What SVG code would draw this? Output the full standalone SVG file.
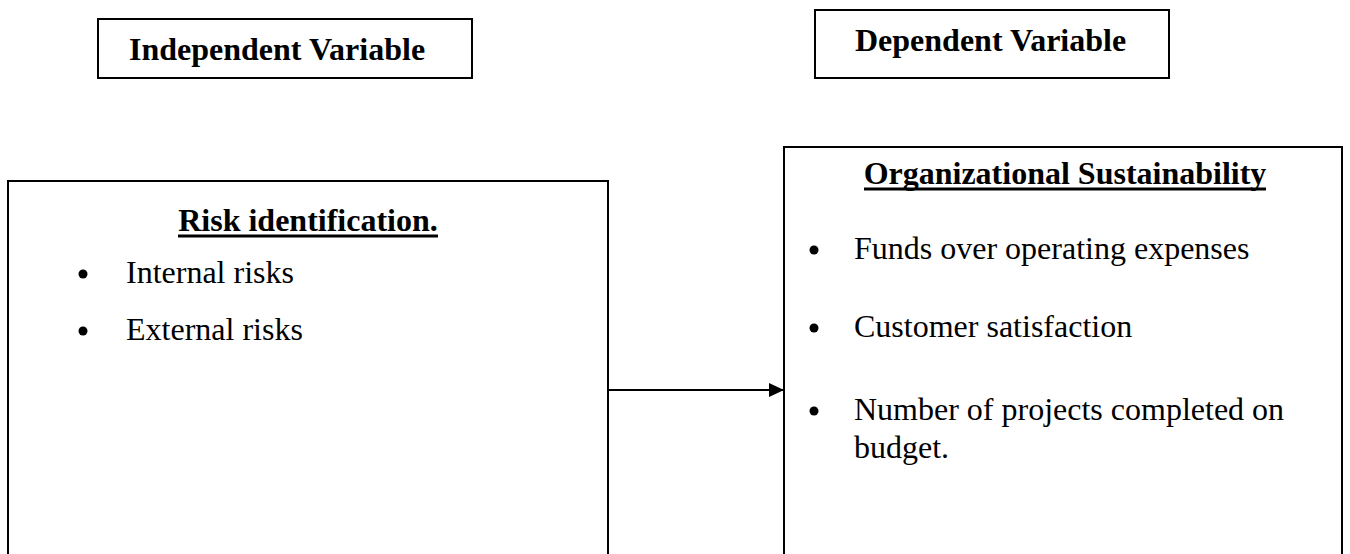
<svg xmlns="http://www.w3.org/2000/svg" width="1350" height="554" viewBox="0 0 1350 554">
<defs>
<style>
.box{fill:#fff;stroke:#000;stroke-width:2}
.h{font-family:"Liberation Serif","Times New Roman",serif;font-size:32px;font-weight:bold;fill:#000}
.t{font-family:"Liberation Serif","Times New Roman",serif;font-size:32px;fill:#000}
.ul{stroke:#000;stroke-width:3}
.conn{stroke:#000;stroke-width:2;fill:none}
</style>
<marker id="arr" viewBox="0 0 10 10" refX="10" refY="5" markerWidth="15" markerHeight="14" markerUnits="userSpaceOnUse" orient="auto" preserveAspectRatio="none">
<path d="M0,0 L10,5 L0,10 Z" fill="#000"/>
</marker>
</defs>
<rect width="1350" height="554" fill="#fff"/>
<g id="independent-label">
<rect class="box" x="98" y="19" width="374" height="59"/>
<text class="h" x="129" y="60">Independent Variable</text>
</g>
<g id="dependent-label">
<rect class="box" x="815" y="10" width="354" height="68"/>
<text class="h" x="855" y="51">Dependent Variable</text>
</g>
<g id="risk-identification">
<rect class="box" x="8" y="181" width="600" height="390"/>
<text class="h" x="308" y="231" text-anchor="middle">Risk identification.</text>
<line class="ul" x1="178" y1="236" x2="438" y2="236"/>
<circle cx="83" cy="274" r="4.5"/>
<text class="t" x="126" y="283">Internal risks</text>
<circle cx="83" cy="331" r="4.5"/>
<text class="t" x="126" y="340">External risks</text>
</g>
<g id="organizational-sustainability">
<rect class="box" x="784" y="147" width="558" height="420"/>
<text class="h" x="1065" y="184" text-anchor="middle">Organizational Sustainability</text>
<line class="ul" x1="864" y1="189" x2="1266" y2="189"/>
<circle cx="814" cy="250" r="4.5"/>
<text class="t" x="854" y="259">Funds over operating expenses</text>
<circle cx="814" cy="328" r="4.5"/>
<text class="t" x="854" y="337">Customer satisfaction</text>
<circle cx="814" cy="411" r="4.5"/>
<text class="t" x="854" y="420">Number of projects completed on</text>
<text class="t" x="854" y="458">budget.</text>
</g>
<g id="connectors">
<line class="conn" x1="608" y1="390" x2="784" y2="390" marker-end="url(#arr)"/>
</g>
</svg>
